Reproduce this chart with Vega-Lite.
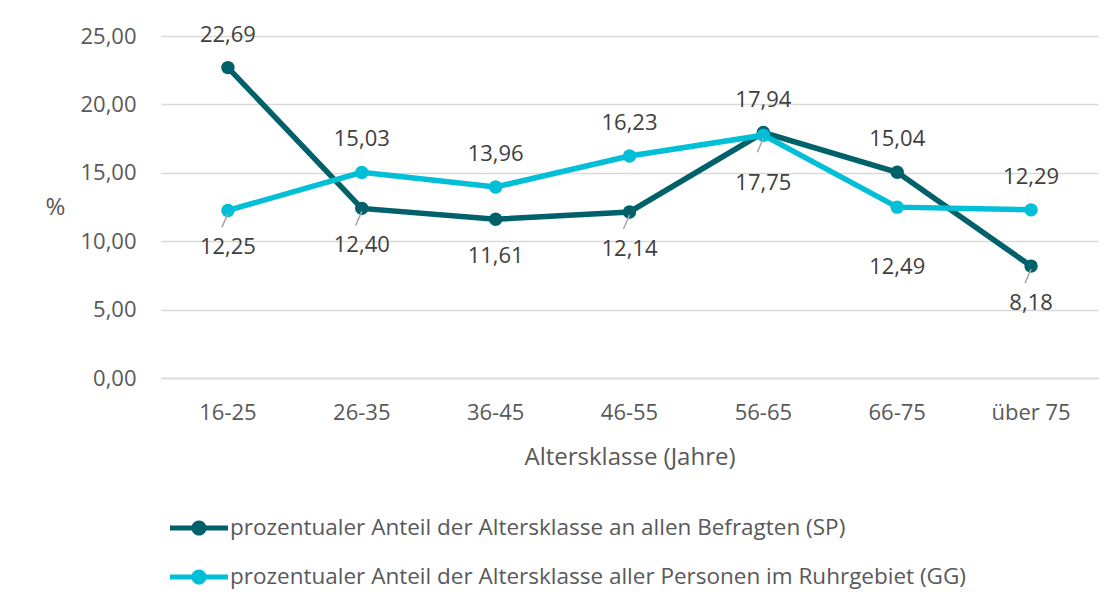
{
  "$schema": "https://vega.github.io/schema/vega-lite/v6.json",
  "autosize": "none",
  "width": 937,
  "height": 342,
  "padding": {"left": 161, "top": 36, "right": 21, "bottom": 228},
  "background": "#ffffff",
  "config": {
    "locale": {"number": {"decimal": ",", "thousands": ".", "grouping": [3], "currency": ["", " €"]}},
    "font": "Open Sans",
    "view": {"stroke": null},
    "axis": {"labelFont": "Open Sans", "titleFont": "Open Sans", "labelColor": "#595959", "titleColor": "#595959", "titleFontWeight": "normal"}
  },
  "data": {
    "values": [
      {"a": "16-25", "s": "SP", "v": 22.69},
      {"a": "26-35", "s": "SP", "v": 12.40},
      {"a": "36-45", "s": "SP", "v": 11.61},
      {"a": "46-55", "s": "SP", "v": 12.14},
      {"a": "56-65", "s": "SP", "v": 17.94},
      {"a": "66-75", "s": "SP", "v": 15.04},
      {"a": "über 75", "s": "SP", "v": 8.18},
      {"a": "16-25", "s": "GG", "v": 12.25},
      {"a": "26-35", "s": "GG", "v": 15.03},
      {"a": "36-45", "s": "GG", "v": 13.96},
      {"a": "46-55", "s": "GG", "v": 16.23},
      {"a": "56-65", "s": "GG", "v": 17.75},
      {"a": "66-75", "s": "GG", "v": 12.49},
      {"a": "über 75", "s": "GG", "v": 12.29}
    ]
  },
  "encoding": {
    "x": {
      "field": "a", "type": "nominal", "sort": null,
      "scale": {"paddingInner": 0, "paddingOuter": 0},
      "axis": {"title": "Altersklasse (Jahre)", "labelAngle": 0, "labelFontSize": 22, "titleFontSize": 24, "ticks": false, "domainColor": "#d9d9d9", "domainWidth": 1.5, "labelPadding": 24, "titlePadding": 22}
    },
    "y": {
      "field": "v", "type": "quantitative",
      "scale": {"domain": [0, 25], "nice": false},
      "axis": {"title": "%", "titleAngle": 0, "titleX": -106, "titleY": 171, "titleAlign": "center", "titleBaseline": "middle", "titleFontSize": 24, "values": [0, 5, 10, 15, 20, 25], "format": ".2f", "labelFontSize": 22, "labelPadding": 25, "ticks": false, "domain": false, "gridColor": "#d9d9d9", "gridWidth": 1.5}
    }
  },
  "layer": [
    {
      "mark": {"type": "line", "strokeWidth": 5.5},
      "encoding": {
        "color": {
          "field": "s", "type": "nominal",
          "scale": {"domain": ["SP", "GG"], "range": ["#00616b", "#00bfd6"]},
          "sort": ["SP", "GG"],
          "legend": {
            "title": null, "orient": "none", "legendX": 9, "legendY": 463, "direction": "vertical",
            "symbolType": "M-1,-0.09 H1 V0.09 H-1 Z M-0.26,0 A0.26,0.26 0 1,1 0.26,0 A0.26,0.26 0 1,1 -0.26,0 Z",
            "symbolSize": 3364, "symbolStrokeWidth": 0, "symbolOpacity": 1,
            "labelFontSize": 22.5, "labelColor": "#595959", "labelFont": "Open Sans", "labelOffset": 2, "rowPadding": 8, "labelLimit": 0,
            "labelExpr": "datum.label == 'SP' ? 'prozentualer Anteil der Altersklasse an allen Befragten (SP)' : 'prozentualer Anteil der Altersklasse aller Personen im Ruhrgebiet (GG)'"
          }
        }
      }
    },
    {
      "mark": {"type": "point", "filled": true, "size": 180, "opacity": 1},
      "encoding": {"color": {"field": "s", "type": "nominal"}}
    },
    {
      "transform": [{"filter": "(datum.s == 'GG' && (datum.a == '16-25' || datum.a == '56-65')) || (datum.s == 'SP' && (datum.a == '26-35' || datum.a == '46-55' || datum.a == 'über 75'))"}],
      "mark": {"type": "rule", "color": "#a6a6a6", "strokeWidth": 1.5, "yOffset": 3, "y2Offset": 17, "xOffset": 0, "x2Offset": -6},
      "encoding": {"y2": {"field": "v"}, "x2": {"field": "a"}}
    },
    {
      "transform": [{"filter": "(datum.s == 'SP' && (datum.a == '16-25' || datum.a == '56-65' || datum.a == '66-75')) || (datum.s == 'GG' && (datum.a == '26-35' || datum.a == '36-45' || datum.a == '46-55' || datum.a == 'über 75'))"}],
      "mark": {"type": "text", "fontSize": 22, "color": "#404040", "dy": -33, "baseline": "middle"},
      "encoding": {"text": {"field": "v", "type": "quantitative", "format": ".2f"}}
    },
    {
      "transform": [{"filter": "(datum.s == 'SP' && (datum.a == '26-35' || datum.a == '36-45' || datum.a == '46-55' || datum.a == 'über 75')) || (datum.s == 'GG' && datum.a == '16-25')"}],
      "mark": {"type": "text", "fontSize": 22, "color": "#404040", "dy": 37, "baseline": "middle"},
      "encoding": {"text": {"field": "v", "type": "quantitative", "format": ".2f"}}
    },
    {
      "transform": [{"filter": "datum.s == 'GG' && datum.a == '56-65'"}],
      "mark": {"type": "text", "fontSize": 22, "color": "#404040", "dy": 48, "baseline": "middle"},
      "encoding": {"text": {"field": "v", "type": "quantitative", "format": ".2f"}}
    },
    {
      "transform": [{"filter": "datum.s == 'GG' && datum.a == '66-75'"}],
      "mark": {"type": "text", "fontSize": 22, "color": "#404040", "dy": 60, "baseline": "middle"},
      "encoding": {"text": {"field": "v", "type": "quantitative", "format": ".2f"}}
    }
  ]
}
